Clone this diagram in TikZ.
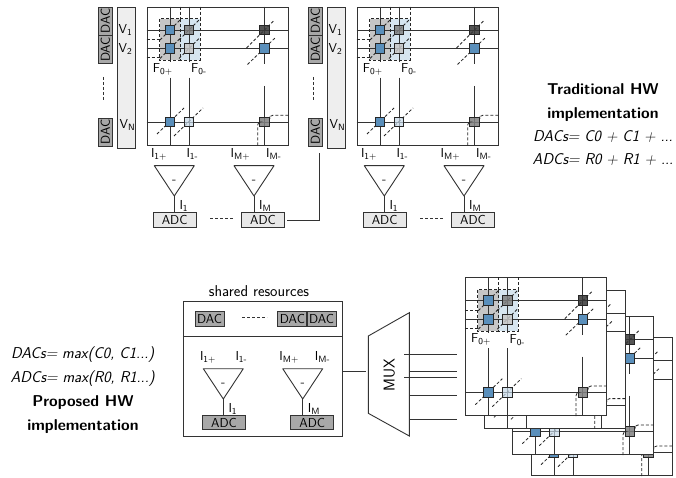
\documentclass[tikz,border=0pt]{standalone}
\usetikzlibrary{positioning, arrows.meta, calc}

\definecolor{cellblue}{HTML}{5A8FBB}
\definecolor{shadeblue}{HTML}{D6E5EF}
\definecolor{shadegray}{HTML}{C6C6C6}
\definecolor{dacgray}{HTML}{A8A8A8}
\definecolor{adclight}{HTML}{E8E8E8}
\definecolor{vgray}{HTML}{EEEEEE}
\newcommand{\lbl}[2]{#1\textsubscript{#2}}

\begin{document}
\begin{tikzpicture}[
  x=1pt, y=-1pt,
  every node/.style = {font=\fontsize{13}{15}\selectfont\sffamily, inner sep=0pt},
  bigtext/.style = {font=\fontsize{15.7}{#1}\selectfont\sffamily},
  bigtext/.default = 18,
  wire/.style = {draw=black!80, line width=0.9pt},
  boxed/.style = {draw=black!80, line width=0.9pt},
  dash_wire/.style = {wire, dash pattern=on 3pt off 2pt},
  diag/.style = {draw=black!85, line width=0.8pt, dash pattern=on 3pt off 2pt},
  cell/.style = {draw=black!85, line width=1pt, minimum size=9.6pt},
  dacbox/.style = {boxed, fill=dacgray, minimum width=29pt, minimum height=14.6pt},
  adcbox/.style = {boxed, minimum width=43pt, minimum height=14.6pt},
  crossbar/.pic = {
    % Frame and shaded feedback groups
    \node[boxed, fill=white, minimum width=141pt, minimum height=138pt] (-frame) at (217.5,76) {};
    \node[fill=shadegray, minimum width=20.5pt, minimum height=41pt] (-fplus) at (170,39.5) {};
    \node[fill=shadeblue, minimum width=19.5pt, minimum height=41pt] (-fminus) at (190,39.5) {};
    \coordinate (-a_1) at (170,30);
    \coordinate (-a_2) at (170,48.5);
    \coordinate (-a_3) at (170,122);
    \coordinate (-b_1) at (189,30);
    \coordinate (-b_2) at (189,48.5);
    \coordinate (-b_3) at (189,122);
    \coordinate (-m_1) at (264.5,30);
    \coordinate (-m_2) at (264.5,48.5);
    \coordinate (-m_3) at (264.5,122);
    \coordinate (-cut) at (147,62);
    \coordinate (-res_f) at (147,77.6);
    \coordinate (-cut_m) at (147,64);
    \coordinate (-res_m) at (147,86);
    % Rows and columns
    \foreach \row in {1,2,3} {
      \draw[wire] (-frame.west |- -a_\row) -- (-frame.east |- -a_\row);
    }
    \foreach \col in {a,b} {
      \draw[wire] (-frame.north -| -\col_1) -- (-\col_1 |- -cut);
      \draw[wire] (-\col_1 |- -res_f) -- (-frame.south -| -\col_1);
    }
    \draw[wire] (-frame.north -| -m_1) -- (-m_1 |- -cut_m);
    \draw[wire] (-m_1 |- -res_m) -- (-frame.south -| -m_1);
    % Programming lines
    \foreach \col in {a_1,a_2,b_1,b_2} {
      \draw[diag] ($(-\col)+(-10,10)$) -- ($(-\col)+(11,-11)$);
    }
    \draw[diag] ($(-m_1)+(-18,18)$) -- ($(-m_1)+(9,-9)$);
    \draw[diag] ($(-m_2)+(-17,16)$) -- ($(-m_2)+(11,-11)$);
    \draw[diag] ($(-a_3)+(-13,12)$) -- ($(-a_3)+(14,-14)$);
    \draw[diag] ($(-b_3)+(-15,14)$) -- ($(-b_3)+(14,-14)$);
    % Cells
    \node[cell, fill=cellblue] (-cell_a1) at (-a_1) {};
    \node[cell, fill=cellblue] (-cell_a2) at (-a_2) {};
    \node[cell, fill=cellblue] (-cell_a3) at (-a_3) {};
    \node[cell, fill=black!50, fill opacity=0.85] (-cell_b1) at (-b_1) {};
    \node[cell, fill=black!22, fill opacity=0.85] (-cell_b2) at (-b_2) {};
    \node[cell, fill=cellblue!35, fill opacity=0.7] (-cell_b3) at (-b_3) {};
    \node[cell, fill=black!78, fill opacity=0.85] (-cell_m1) at (-m_1) {};
    \node[cell, fill=cellblue] (-cell_m2) at (-m_2) {};
    \node[cell, fill=black!50, fill opacity=0.85] (-cell_m3) at (-m_3) {};
    % Dashed group borders and their lines
    \draw[diag] (-fplus.north west) rectangle (-fplus.south east);
    \draw[diag] (-fminus.north west) rectangle (-fminus.south east);
    \draw[diag] (-frame.north -| -fplus.east) -- (-fplus.north east);
    \draw[diag] (-frame.north -| -fminus.east) -- (-fminus.north east);
    \draw[diag] (-frame.west |- 0,39.5) -- (-fplus.west);
    \draw[diag] (-frame.west |- 0,57.5) -- (-fplus.west |- 0,57.5);
    \draw[diag, rounded corners=3pt] (-frame.east |- 0,115.3) -- (-cell_m3.north east |- 0,115.3) -- (-cell_m3.north east);
    \draw[diag, rounded corners=3pt] (-frame.south -| 257.7,0) -- (257.7,122) -- (-cell_m3.west);
    \node (-f_plus) at (162.7,69) {\lbl{F}{0+}};
    \node (-f_minus) at (199,69) {\lbl{F}{0-}};
  },
  diffamp/.pic = {
    \coordinate (-in_p) at (0,0);
    \coordinate (-in_n) at (40,0);
    \coordinate (-out) at (20,30.3);
    \draw[wire, line join=round] (-in_p) -- (-in_n) -- (-out) -- cycle;
    \node (-minus) at (20,16) {-};
    \node[anchor=west] (-lbl_p) at (-3.5,-11) {\lbl{I}{#1+}};
    \node[anchor=west] (-lbl_n) at (32,-12) {\lbl{I}{#1-}};
    \node[anchor=west] (-lbl_out) at (25,40) {\lbl{I}{#1}};
  },
  bank/.pic = {
    \node[dacbox, rotate=90, minimum width=28pt] (-dac_1) at (105.3,21) {DAC};
    \node[dacbox, rotate=90, minimum width=28pt] (-dac_2) at (105.3,49.5) {DAC};
    \node[dacbox, rotate=90, minimum width=28pt] (-dac_n) at (105.3,132) {DAC};
    \coordinate (-gap_a) at (103.5,77);
    \coordinate (-gap_b) at (103.5,100);
    \draw[dash_wire] (-gap_a) -- (-gap_b);
    \node[boxed, fill=vgray, minimum width=18pt, minimum height=141pt] (-volt) at (126,77.5) {};
    \node (-v_1) at (125.5,30) {\lbl{V}{1}};
    \node (-v_2) at (125.5,49) {\lbl{V}{2}};
    \node (-v_n) at (127.5,125) {\lbl{V}{N}};
    \pic (-amp_1) at (154.3,165.7) {diffamp={1}};
    \pic (-amp_m) at (234,165.7) {diffamp={M}};
    \node[adcbox, fill=adclight] (-adc_1) at (174.6,220) {ADC};
    \node[adcbox, fill=adclight] (-adc_m) at (263,220) {ADC};
    \draw[wire] (-amp_1-out) -- (-amp_1-out |- -adc_1.north);
    \draw[wire] (-amp_m-out) -- (-amp_m-out |- -adc_m.north);
    \draw[dash_wire] (-adc_1.east) ++(13.5,-1.5) -- ++(24,0);
  }
]
  \useasboundingbox (0,0) rectangle (676,478);

  % Traditional implementation
  \pic (xbar_0) at (0,0) {crossbar};
  \pic (bank_0) at (0,0) {bank};
  \pic (xbar_1) at (210,0) {crossbar};
  \pic (bank_1) at (210,0) {bank};
  \coordinate (link_top) at (319,153.3);
  \draw[wire, shorten <=2.4pt] (bank_0-adc_m.east) -| (link_top);

  \node[align=center, bigtext=23.3] (trad_text) at (603,125) {
    \textbf{Traditional HW}\\ \textbf{implementation}\\
    \textit{DACs= C0 + C1 + ...}\\ \textit{ADCs= R0 + R1 + ...}};

  % Shared resources
  \node[bigtext] (shared_text) at (259,290.7) {shared resources};
  \node[boxed, minimum width=159pt, minimum height=135pt] (shared_box) at (262.8,369.2) {};
  \coordinate (split) at (262.8,336.7);
  \draw[wire] (shared_box.west |- split) -- (shared_box.east |- split);

  \node[dacbox] (dac_s0) at (209.6,319.2) {DAC};
  \node[dacbox] (dac_s1) at (292.4,319.2) {DAC};
  \node[dacbox] (dac_s2) at (321.5,319.2) {DAC};
  \draw[dash_wire] (dac_s0.east) ++(17.5,-2) -- ++(25,0);

  \pic (amp_s0) at (203.3,368.7) {diffamp={1}};
  \pic (amp_s1) at (282.7,368.7) {diffamp={M}};
  \node[adcbox, fill=dacgray] (adc_s0) at (224,422.5) {ADC};
  \node[adcbox, fill=dacgray] (adc_s1) at (312.2,422.5) {ADC};
  \draw[wire] (amp_s0-out) -- (amp_s0-out |- adc_s0.north);
  \draw[wire] (amp_s1-out) -- (amp_s1-out |- adc_s1.north);

  \node[align=center, bigtext=24] (prop_text) at (83,390) {
    \textit{DACs= max(C0, C1...)}\\ \textit{ADCs= max(R0, R1...)}\\
    \textbf{Proposed HW}\\ \textbf{implementation}};

  % Multiplexer
  \coordinate (mux_nw) at (368.3,336);
  \coordinate (mux_ne) at (409.3,312.7);
  \coordinate (mux_se) at (409.3,436);
  \coordinate (mux_sw) at (368.3,413.3);
  \draw[wire, fill=white] (mux_nw) -- (mux_ne) -- (mux_se) -- (mux_sw) -- cycle;
  \node[rotate=90, bigtext] (mux_text) at (389.3,375) {MUX};
  \coordinate (mux_in) at (365.7,371.7);
  \draw[wire] (shared_box.east |- mux_in) -- (mux_in);
  \foreach \n/\x/\y in {1/404/354.3, 2/409.3/371.7, 3/404/377.7, 4/409.3/395, 5/409.3/419.3} {
    \coordinate (mux_a\n) at (\x,\y);
    \coordinate (mux_b\n) at (456.5,\y);
    \draw[wire] (mux_a\n) -- (mux_b\n);
  }

  % Stacked crossbars
  \pic (stack_3) at (384,330.7) {crossbar};
  \pic (stack_2) at (365.3,309.7) {crossbar};
  \pic (stack_1) at (337,283.3) {crossbar};
  \pic (stack_0) at (318.3,270.7) {crossbar};
\end{tikzpicture}
\end{document}
